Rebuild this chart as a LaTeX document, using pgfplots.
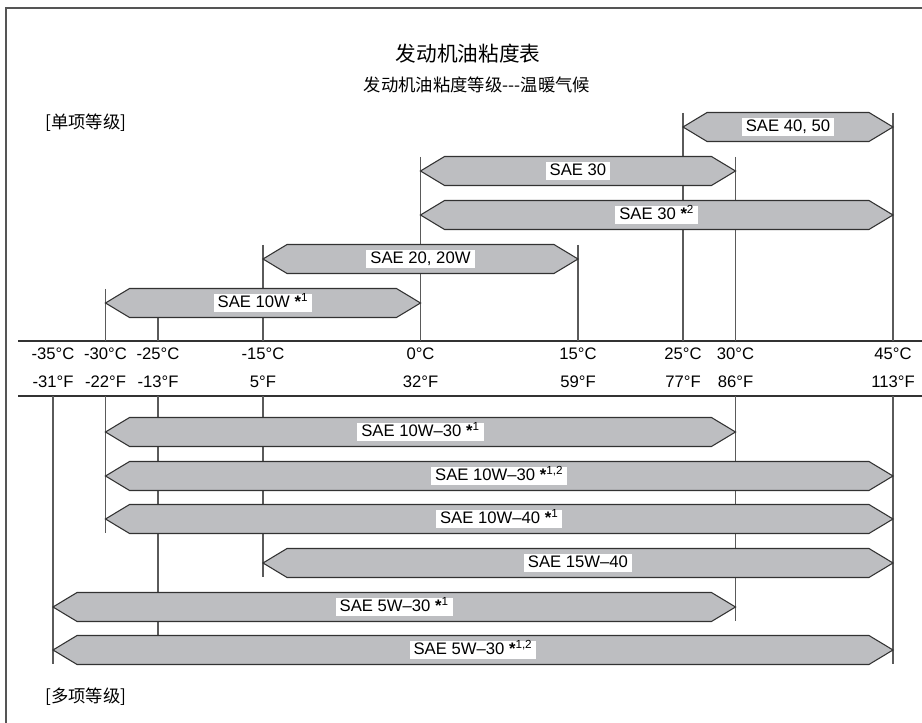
\documentclass[border=0pt]{standalone}
\usepackage{pgfplots}
\pgfplotsset{compat=1.18}
\usepackage{fontspec}
\setmainfont{Liberation Sans}
\newfontfamily\cjk{Noto Sans CJK SC}

\definecolor{barfill}{RGB}{189,190,193}
\definecolor{barline}{RGB}{50,50,50}
\definecolor{vline}{RGB}{90,90,90}
\definecolor{frame}{RGB}{85,85,85}

\tikzset{
    lbl/.style={fill=white,inner xsep=3pt,inner ysep=1pt,text height=9.5pt,text depth=2.6pt,
        font=\fontsize{12.5}{14}\selectfont},
    tl/.style={font=\fontsize{12.5}{14}\selectfont},
}
\newcommand{\st}{\textbf{*}}

% one grade: lowest temp, highest temp, row (px from top), label
\newcommand{\hexbar}[4]{%
  \pgfmathsetmacro\xa{#1+2.29}%
  \pgfmathsetmacro\xb{#2-2.29}%
  \pgfmathsetmacro\yt{#3-14.5}%
  \pgfmathsetmacro\yb{#3+14.5}%
  \edef\tmp{\noexpand\addplot[draw=barline,fill=barfill,line width=0.8pt,line join=miter]
    coordinates {(#1,#3) (\xa,\yt) (\xb,\yt) (#2,#3) (\xb,\yb) (\xa,\yb)} -- cycle;}%
  \tmp
  \path (axis cs:#1,#3) -- (axis cs:#2,#3) node[midway,lbl] {#4};
}
% temperature label pair
\newcommand{\temp}[2]{%
  \node[tl] at (axis cs:#1,354) {#1°C};
  \node[tl] at (axis cs:#1,382) {#2°F};
}

\begin{document}
\begin{tikzpicture}
\path[use as bounding box] (0,0) rectangle (691.5pt,542.25pt);
\begin{axis}[
    width=691.5pt,
    height=542.25pt,
    scale only axis,
    hide axis,
    clip=false,
    xmin=-40.0476, xmax=47.7619,
    ymin=0, ymax=723,
    y dir=reverse,
    unbounded coords=jump,
]
% frame and separators
\draw[frame,line width=1.5pt] (axis cs:-39.476,723) -- (axis cs:-39.476,8) -- (axis cs:47.7619,8);
\draw[barline,line width=1.1pt] (axis cs:-38.333,341) -- (axis cs:47.7619,341);
\draw[barline,line width=1.1pt] (axis cs:-38.333,396) -- (axis cs:47.7619,396);

% temperature guide lines
\addplot[vline,line width=1pt] coordinates {
    (-35,396) (-35,664) (-35,nan)
    (-30,289) (-30,341) (-30,nan) (-30,396) (-30,533) (-30,nan)
    (-25,289) (-25,341) (-25,nan) (-25,396) (-25,650) (-25,nan)
    (-15,245) (-15,341) (-15,nan) (-15,396) (-15,577) (-15,nan)
    (0,157) (0,341) (0,nan)
    (15,245) (15,341) (15,nan)
    (25,113) (25,341) (25,nan)
    (30,157) (30,341) (30,nan) (30,396) (30,621) (30,nan)
    (45,113) (45,341) (45,nan) (45,396) (45,664)
};

% single grades
\hexbar{25}{45}{127}{SAE 40, 50}
\hexbar{0}{30}{171}{SAE 30}
\hexbar{0}{45}{215}{SAE 30 \st\textsuperscript{2}}
\hexbar{-15}{15}{259}{SAE 20, 20W}
\hexbar{-30}{0}{303}{SAE 10W \st\textsuperscript{1}}
% multi grades
\hexbar{-30}{30}{432}{SAE 10W–30 \st\textsuperscript{1}}
\hexbar{-30}{45}{476}{SAE 10W–30 \st\textsuperscript{1,2}}
\hexbar{-30}{45}{519}{SAE 10W–40 \st\textsuperscript{1}}
\hexbar{-15}{45}{563}{SAE 15W–40}
\hexbar{-35}{30}{607}{SAE 5W–30 \st\textsuperscript{1}}
\hexbar{-35}{45}{650}{SAE 5W–30 \st\textsuperscript{1,2}}

% temperature scale
\temp{-35}{-31}
\temp{-30}{-22}
\temp{-25}{-13}
\temp{-15}{5}
\temp{0}{32}
\temp{15}{59}
\temp{25}{77}
\temp{30}{86}
\temp{45}{113}

% titles
\node[font=\cjk\fontsize{15.5}{18}\selectfont] at (axis cs:4.524,54) {发动机油粘度表};
\node[font=\cjk\fontsize{13}{16}\selectfont] at (axis cs:5.381,85) {发动机油粘度等级-{}-{}-温暖气候};
\node[anchor=west,inner sep=0pt,font=\cjk\fontsize{13}{16}\selectfont] at (axis cs:-35.762,123) {[单项等级]};
\node[anchor=west,inner sep=0pt,font=\cjk\fontsize{13}{16}\selectfont] at (axis cs:-35.762,697) {[多项等级]};
\end{axis}
\end{tikzpicture}
\end{document}
